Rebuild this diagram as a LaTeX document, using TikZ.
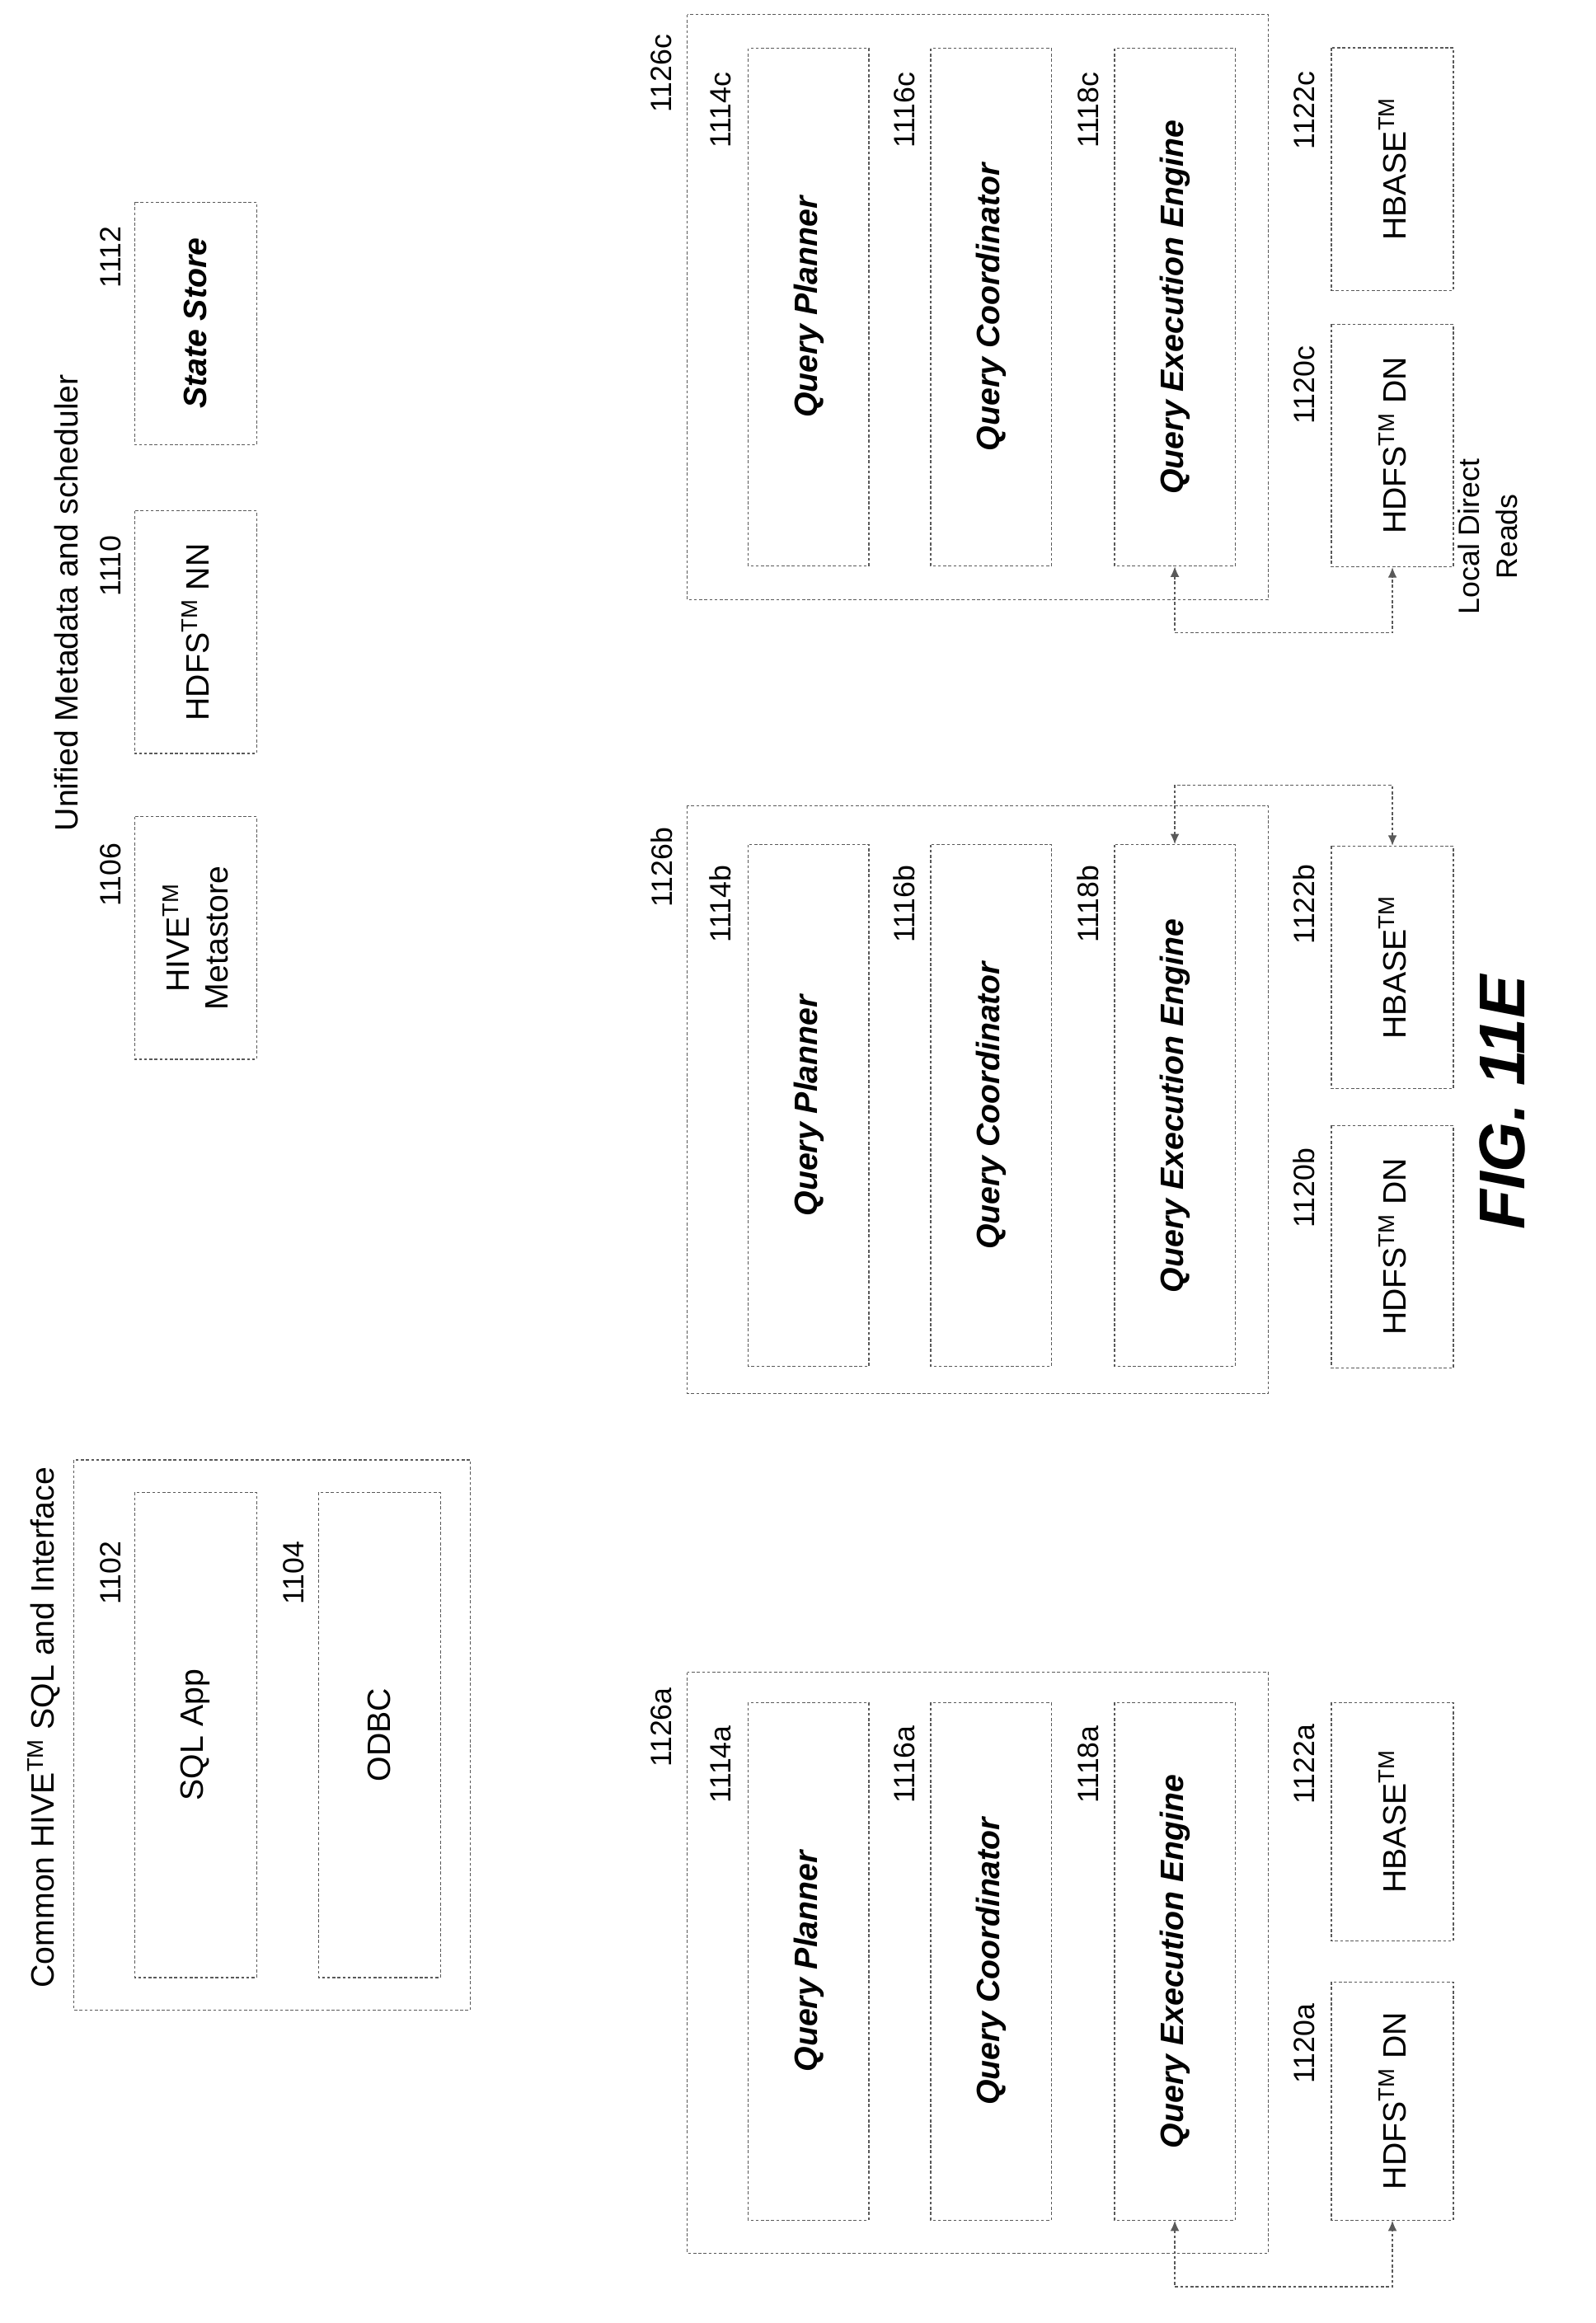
\documentclass[tikz,border=0pt]{standalone}
\usepackage{fontspec}
\setmainfont{Liberation Sans}
\usetikzlibrary{arrows.meta}
\begin{document}
\begin{tikzpicture}[x=1pt,y=-1pt,
 dl/.style={draw=black!65, dash pattern=on 2pt off 1.5pt, line width=0.7pt},
 bx/.style={dl, rotate=90, inner sep=0pt, font=\fontsize{22}{26}\selectfont},
 ib/.style={bx, font=\fontsize{22}{26}\selectfont\bfseries\itshape},
 lb/.style={rotate=90, inner sep=0pt, font=\fontsize{20}{24}\selectfont},
 arr/.style={dl, {Latex[length=7pt,width=6pt]}-{Latex[length=7pt,width=6pt]}}]
\useasboundingbox (0,0) rectangle (1085,1580);
% Common HIVE
\node[lb, font=\fontsize{22}{26}\selectfont] (t1) at (30,1175) {Common HIVE\textsuperscript{TM} SQL and Interface};
\node[bx, minimum width=374, minimum height=270] (c1) at (185,1180) {};
\node[bx, minimum width=330, minimum height=83] (sql) at (133,1180) {SQL App};
\node[bx, minimum width=330, minimum height=83] (odbc) at (258,1180) {ODBC};
\node[lb] (l1102) at (75,1070) {1102};
\node[lb] (l1104) at (200,1070) {1104};
% Unified
\node[lb, font=\fontsize{22}{26}\selectfont] (t2) at (45,410) {Unified Metadata and scheduler};
\node[bx, minimum width=165, minimum height=83, align=center] (hm) at (133,638) {HIVE\textsuperscript{TM}\\Metastore};
\node[bx, minimum width=165, minimum height=83] (nn) at (133,430) {HDFS\textsuperscript{TM} NN};
\node[ib, minimum width=165, minimum height=83] (ss) at (133,220) {State Store};
\node[lb] (l1106) at (75,595) {1106};
\node[lb] (l1110) at (75,385) {1110};
\node[lb] (l1112) at (75,175) {1112};
% column a
\node[bx, minimum width=395, minimum height=395] (oa) at (665,1335) {};
\node[lb] at (450,1175) {1126a};
\node[ib, minimum width=352, minimum height=82] (qpa) at (550,1334) {Query Planner};
\node[lb] at (490,1200) {1114a};
\node[ib, minimum width=352, minimum height=82] (qca) at (674,1334) {Query Coordinator};
\node[lb] at (615,1200) {1116a};
\node[ib, minimum width=352, minimum height=82] (qea) at (799,1334) {Query Execution Engine};
\node[lb] at (740,1200) {1118a};
\node[bx, minimum width=162, minimum height=83] (dna) at (947,1429) {HDFS\textsuperscript{TM} DN};
\node[lb] at (887,1390) {1120a};
\node[bx, minimum width=162, minimum height=83] (hba) at (947,1239) {HBASE\textsuperscript{TM}};
\node[lb] at (887,1200) {1122a};
\draw[arr] (qea.west) -- ++(0,45) -| (dna.west);
% column b
\node[bx, minimum width=400, minimum height=395] (ob) at (665,748) {};
\node[lb] at (450,590) {1126b};
\node[ib, minimum width=355, minimum height=82] (qpb) at (550,752) {Query Planner};
\node[lb] at (490,615) {1114b};
\node[ib, minimum width=355, minimum height=82] (qcb) at (674,752) {Query Coordinator};
\node[lb] at (615,615) {1116b};
\node[ib, minimum width=355, minimum height=82] (qeb) at (799,752) {Query Execution Engine};
\node[lb] at (740,615) {1118b};
\node[bx, minimum width=165, minimum height=83] (dnb) at (947,848) {HDFS\textsuperscript{TM} DN};
\node[lb] at (887,808) {1120b};
\node[bx, minimum width=165, minimum height=83] (hbb) at (947,658) {HBASE\textsuperscript{TM}};
\node[lb] at (887,615) {1122b};
\draw[arr] (qeb.east) -- ++(0,-40) -| (hbb.east);
% column c
\node[bx, minimum width=398, minimum height=395] (oc) at (665,209) {};
\node[lb] at (450,50) {1126c};
\node[ib, minimum width=352, minimum height=82] (qpc) at (550,209) {Query Planner};
\node[lb] at (490,75) {1114c};
\node[ib, minimum width=352, minimum height=82] (qcc) at (674,209) {Query Coordinator};
\node[lb] at (615,75) {1116c};
\node[ib, minimum width=352, minimum height=82] (qec) at (799,209) {Query Execution Engine};
\node[lb] at (740,75) {1118c};
\node[bx, minimum width=165, minimum height=83] (dnc) at (947,303) {HDFS\textsuperscript{TM} DN};
\node[lb] at (887,262) {1120c};
\node[bx, minimum width=165, minimum height=83] (hbc) at (947,115) {HBASE\textsuperscript{TM}};
\node[lb] at (887,75) {1122c};
\draw[arr] (qec.west) -- ++(0,45) -| (dnc.west);
\node[lb, align=center, font=\fontsize{20}{26}\selectfont] (ldr) at (1012,365) {Local Direct\\Reads};
% fig
\node[lb, font=\fontsize{44}{50}\selectfont\bfseries\itshape] (fig) at (1022,750) {FIG. 11E};
\end{tikzpicture}
\end{document}
